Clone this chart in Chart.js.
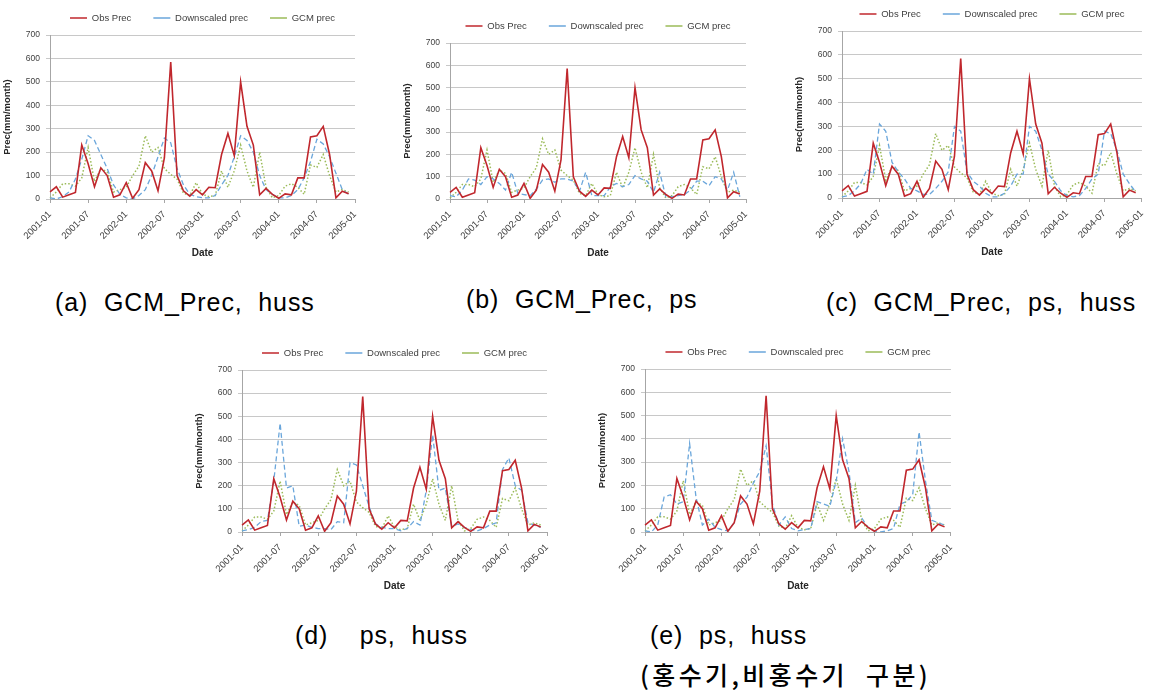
<!DOCTYPE html>
<html>
<head>
<meta charset="utf-8">
<script src="https://cdn.jsdelivr.net/npm/chart.js@4.4.1/dist/chart.umd.min.js"></script>
<style>
  body { margin: 0; background: #fff; width: 1156px; height: 691px; position: relative; overflow: hidden; }
  canvas { position: absolute; }
  .cap { position: absolute; font-family: 'Liberation Sans', Arial, sans-serif; font-size: 25px; color: #000;
         white-space: pre; line-height: 1; letter-spacing: 0.9px; }
  .kr { font-family: 'Noto Sans CJK KR', sans-serif; font-weight: 500; font-size: 25px; letter-spacing: 3.4px; }
</style>
</head>
<body>
<canvas id="cA" width="380" height="270" style="left:0;top:0"></canvas>
<canvas id="cB" width="385" height="270" style="left:385px;top:0"></canvas>
<canvas id="cC" width="381" height="270" style="left:775px;top:0"></canvas>
<canvas id="cD" width="380" height="285" style="left:190px;top:330px"></canvas>
<canvas id="cE" width="380" height="285" style="left:585px;top:330px"></canvas>

<div class="cap" style="left:55px;top:290px">(a)  GCM_Prec,  huss</div>
<div class="cap" style="left:466px;top:287px">(b)  GCM_Prec,  ps</div>
<div class="cap" style="left:826px;top:290px">(c)  GCM_Prec,  ps,  huss</div>
<div class="cap" style="left:295px;top:623px">(d)    ps,  huss</div>
<div class="cap" style="left:650px;top:623px">(e)  ps,  huss</div>
<div class="cap kr" style="left:640px;top:662px">(홍수기,비홍수기  구분)</div>

<script>
// mois de 2001-01 à 2005-01 (49 positions, 48 valeurs)
const MONTHS = [
  '2001-01','2001-02','2001-03','2001-04','2001-05','2001-06','2001-07','2001-08','2001-09','2001-10','2001-11','2001-12',
  '2002-01','2002-02','2002-03','2002-04','2002-05','2002-06','2002-07','2002-08','2002-09','2002-10','2002-11','2002-12',
  '2003-01','2003-02','2003-03','2003-04','2003-05','2003-06','2003-07','2003-08','2003-09','2003-10','2003-11','2003-12',
  '2004-01','2004-02','2004-03','2004-04','2004-05','2004-06','2004-07','2004-08','2004-09','2004-10','2004-11','2004-12',
  '2005-01'
];
const TICK_LABELS = ['2001-01','2001-07','2002-01','2002-07','2003-01','2003-07','2004-01','2004-07','2005-01'];

const OBS_PREC = [30,52,8,18,28,230,150,52,133,100,8,18,70,3,40,155,120,35,175,585,100,35,12,40,
                  18,50,48,190,280,185,500,310,230,18,45,20,3,22,18,90,90,265,270,310,190,5,33,22];
const GCM_PREC = [5,30,65,65,55,90,220,75,130,115,30,40,50,100,140,270,200,220,130,105,85,25,15,70,
                  20,10,15,120,50,120,230,120,50,200,50,5,15,55,65,50,20,145,135,190,100,30,40,30];

// downscaled, un par panneau
const DS_A = [5,0,10,30,85,170,270,250,190,130,60,20,5,0,15,40,100,180,260,240,130,60,20,10,
              5,5,15,60,100,180,270,250,200,100,40,20,5,5,15,40,90,160,255,235,180,110,40,20];
const DS_B = [15,10,40,90,85,65,100,90,70,40,120,25,20,15,45,85,90,75,90,90,80,35,120,15,
              15,15,55,70,55,65,105,90,80,30,120,10,10,15,20,40,80,80,60,100,90,40,120,10];
const DS_C = [5,10,30,60,120,100,310,280,150,110,80,40,30,15,15,40,70,110,300,280,110,70,50,20,
              5,5,20,50,100,100,300,280,200,100,70,30,10,5,10,40,80,100,280,270,200,100,60,25];
const DS_D = [5,10,20,45,50,220,470,190,200,25,30,20,15,15,10,45,40,300,290,200,110,35,20,15,
              15,5,15,45,30,180,420,180,190,25,35,20,10,5,15,30,40,270,320,200,180,40,30,20];
const DS_E = [5,0,30,150,160,120,130,380,150,30,55,20,10,5,40,120,150,210,260,370,120,30,65,15,
              5,10,15,130,120,110,220,400,260,40,60,20,5,0,5,15,120,130,160,430,220,50,40,30];

const SERIES_NAMES = ['Obs Prec', 'Downscaled prec', 'GCM prec'];
const Y_TICKS = [0, 100, 200, 300, 400, 500, 600, 700];

const FONT = "'Liberation Sans', Arial, sans-serif";
Chart.defaults.font.family = FONT;
Chart.defaults.color = '#595959';

const LEGEND_PAD = 22;
const LEGEND_GAP = 17; // du centre du texte au haut du tracé

// légende : hauteur fixe, recentrée sur la zone de tracé (largeur inchangée)
const legendTweak = {
  id: 'legendTweak',
  beforeLayout(chart) {
    const lg = chart.legend;
    if (lg && !lg._tweak) {
      const fit = lg.fit;
      lg.fit = function () {
        fit.call(this);
        this.height = LEGEND_PAD + this.options.labels.font.size / 2 + LEGEND_GAP;
      };
      lg._tweak = true;
    }
  },
  afterLayout(chart) {
    const lg = chart.legend, a = chart.chartArea;
    if (!lg || !a) return;
    const d = (a.left + a.right) / 2 - (lg.left + lg.right) / 2;
    lg.left += d;
    lg.right += d;
  }
};

function creerGraphe(id, downscaled, area) {
  const pad = { left: 0, top: 0, right: 0, bottom: 0 };
  const chart = new Chart(document.getElementById(id), {
    type: 'line',
    data: {
      labels: MONTHS,
      datasets: [
        { label: SERIES_NAMES[0], data: OBS_PREC, borderColor: '#C0272D', borderWidth: 1.6 },
        { label: SERIES_NAMES[1], data: downscaled, borderColor: '#6AA6DB', borderWidth: 1.3, borderDash: [5, 3] },
        { label: SERIES_NAMES[2], data: GCM_PREC, borderColor: '#9BBB59', borderWidth: 1.5, borderDash: [1.5, 2] },
      ],
    },
    options: {
      responsive: false,
      animation: false,
      layout: { padding: pad },
      elements: { point: { radius: 0 }, line: { tension: 0, fill: false } },
      plugins: {
        legend: {
          position: 'top',
          labels: {
            usePointStyle: true, pointStyle: 'line', pointStyleWidth: 17,
            color: '#404040', font: { size: 9.5 }, padding: LEGEND_PAD,
          },
        },
        tooltip: { enabled: false },
      },
      scales: {
        x: {
          offset: false,
          grid: { display: true, drawOnChartArea: false, tickLength: 4, color: '#A6A6A6' },
          border: { color: '#A6A6A6' },
          ticks: {
            autoSkip: false, minRotation: 45, maxRotation: 45, padding: 6,
            font: { size: 9.5 }, color: '#404040',
            callback(v) {
              const lab = this.getLabelForValue(v);
              return TICK_LABELS.includes(lab) ? lab : null;
            },
          },
          title: { display: true, text: 'Date', font: { size: 10, weight: 'bold' }, color: '#262626',
                   padding: { top: 0, bottom: 0 } },
        },
        y: {
          min: Y_TICKS[0], max: Y_TICKS[Y_TICKS.length - 1],
          grid: { color: '#C8C8C8', tickLength: 4 },
          border: { color: '#A6A6A6' },
          afterBuildTicks(s) { s.ticks = Y_TICKS.map(v => ({ value: v })); },
          ticks: { font: { size: 8.5 }, padding: 6, color: '#404040' },
          title: { display: true, text: 'Prec(mm/month)', font: { size: 9.5, weight: 'bold' }, color: '#262626',
                   padding: { top: 0, bottom: 7 } },
        },
      },
    },
    plugins: [legendTweak],
  });

  // cale la zone de tracé sur celle de la figure
  for (let k = 0; k < 3; k++) {
    const a = chart.chartArea;
    pad.left += area[0] - a.left;
    pad.top += area[1] - a.top;
    pad.right += a.right - area[2];
    pad.bottom += a.bottom - area[3];
    chart.update('none');
  }
  return chart;
}

// zones de tracé relatives à chaque canvas : gauche, haut, droite, bas
creerGraphe('cA', DS_A, [50, 35, 355, 199]);
creerGraphe('cB', DS_B, [65, 43, 361, 199]);
creerGraphe('cC', DS_C, [67, 31, 377, 198]);
creerGraphe('cD', DS_D, [52, 40, 357, 202]);
creerGraphe('cE', DS_E, [60, 39, 376, 202]);
</script>
</body>
</html>
